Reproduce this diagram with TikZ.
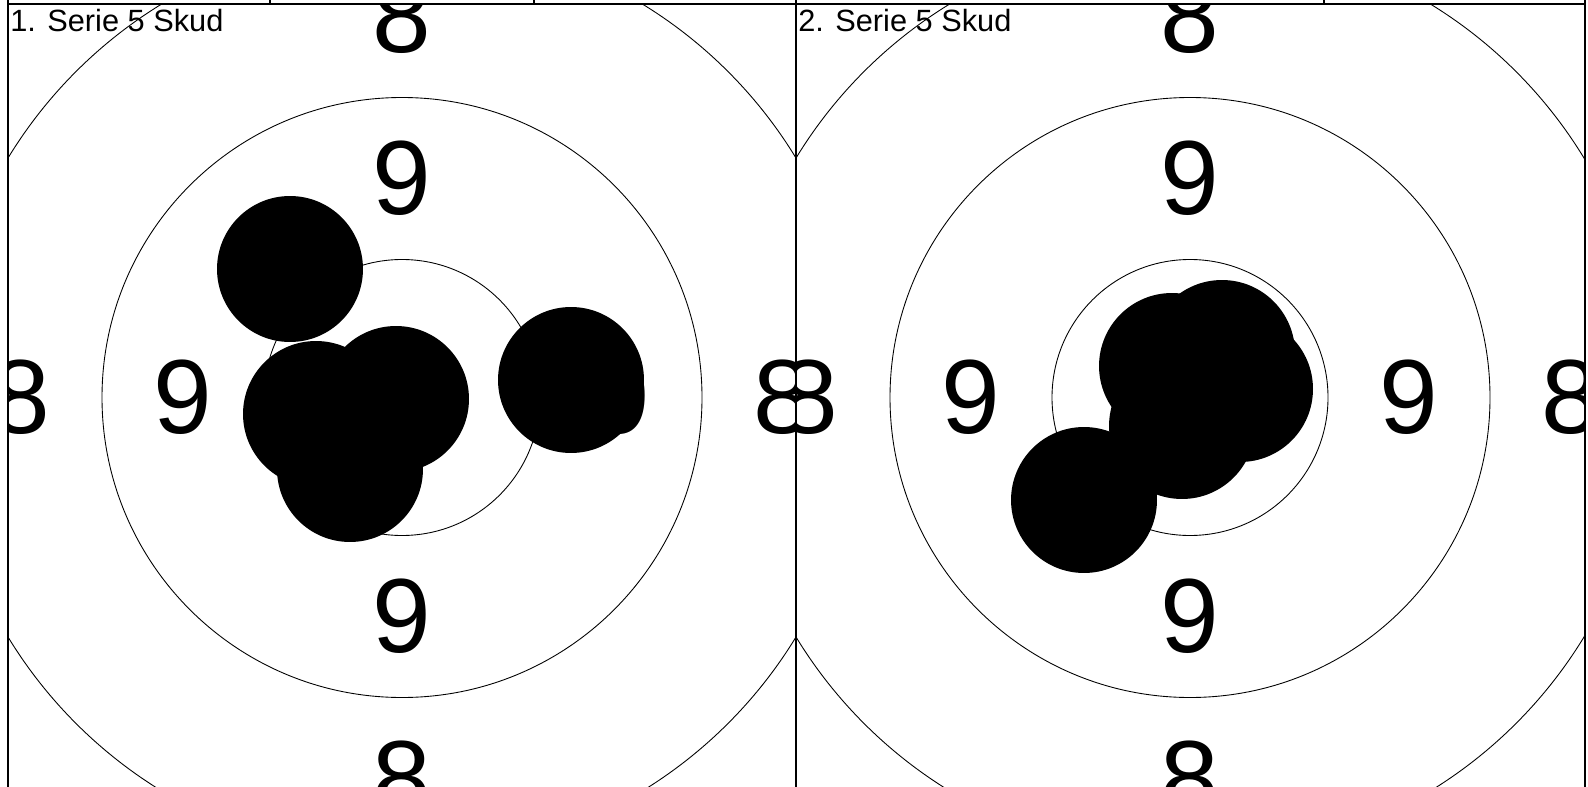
\documentclass[tikz,border=0pt]{standalone}
\usepackage{fontspec}
\setmainfont{Liberation Sans}
\usepackage{tikz}
\usetikzlibrary{positioning}

\begin{document}
\begin{tikzpicture}[
    x=0.02cm,y=-0.02cm,
    frame/.style={line width=0.7pt},
    ring/.style={line width=0.5pt},
    ringnum/.style={inner sep=0pt,font=\fontsize{60}{60}\selectfont},
    shot/.style={circle,fill=black,inner sep=0pt,minimum size=2.92cm},
    serielabel/.style={inner sep=0pt,anchor=base west,font=\fontsize{17.5}{20}\selectfont}
]
\useasboundingbox (0,0) rectangle (1588,787);
% first target
\begin{scope}
\clip (8,4) rectangle (796,792);
\draw[ring] (402,397.5) circle[radius=138];
\draw[ring] (402,397.5) circle[radius=300];
\draw[ring] (402,397.5) circle[radius=461];
\node[ringnum] (a9n) at (402,178.5) {9};
\node[ringnum] (a9s) at (402,616.5) {9};
\node[ringnum] (a9w) at (183,397.5) {9};
\node[ringnum] (a9e) at (621,397.5) {9};
\node[ringnum] (a8n) at (402,16.5) {8};
\node[ringnum] (a8s) at (402,778.5) {8};
\node[ringnum] (a8w) at (21,397.5) {8};
\node[ringnum] (a8e) at (783,397.5) {8};
\node[shot] (a1) at (290,269) {};
\node[shot] (a2) at (396,399) {};
\node[shot] (a3) at (316,414) {};
\node[shot] (a4) at (350,469) {};
\node[shot] (a5) at (571,380) {};
\end{scope}
% second target
\begin{scope}
\clip (796,4) rectangle (1585,792);
\draw[ring] (1190,397.5) circle[radius=138];
\draw[ring] (1190,397.5) circle[radius=300];
\draw[ring] (1190,397.5) circle[radius=461];
\node[ringnum] (b9n) at (1190,178.5) {9};
\node[ringnum] (b9s) at (1190,616.5) {9};
\node[ringnum] (b9w) at (971,397.5) {9};
\node[ringnum] (b9e) at (1409,397.5) {9};
\node[ringnum] (b8n) at (1190,16.5) {8};
\node[ringnum] (b8s) at (1190,778.5) {8};
\node[ringnum] (b8w) at (809,397.5) {8};
\node[ringnum] (b8e) at (1571,397.5) {8};
\node[shot] (b1) at (1172,366) {};
\node[shot] (b2) at (1222,353) {};
\node[shot] (b3) at (1240,389) {};
\node[shot] (b4) at (1182,426) {};
\node[shot] (b5) at (1084,500) {};
\end{scope}
\node[serielabel] (serie1) at (10,32) {1. Serie 5 Skud};
\node[serielabel] (serie2) at (798,32) {2. Serie 5 Skud};
% frame and table edge
\draw[frame] (8,0) -- (8,787);
\draw[frame] (796,0) -- (796,787);
\draw[frame] (1585,0) -- (1585,787);
\draw[frame] (8,4) -- (1585,4);
\draw[frame] (270,0) -- (270,4);
\draw[frame] (534,0) -- (534,4);
\draw[frame] (1324,0) -- (1324,4);
\end{tikzpicture}
\end{document}
